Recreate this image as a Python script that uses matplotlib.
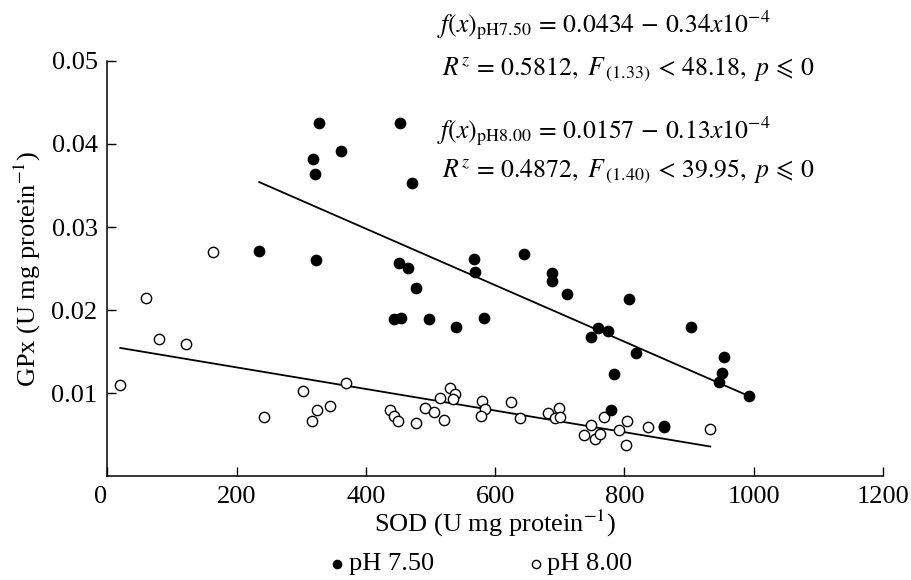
import numpy as np
import matplotlib
matplotlib.use('Agg')
import matplotlib.pyplot as plt

plt.rcParams['font.family'] = ['Liberation Serif', 'DejaVu Serif']
plt.rcParams['mathtext.fontset'] = 'stix'

# pH 7.50 (filled)
sod_75 = [328, 453, 319, 362, 322, 471, 235, 323, 452, 465, 478, 443, 455,
          498, 540, 583, 567, 569, 644, 688, 688, 712, 759, 749, 808, 774,
          903, 818, 784, 955, 951, 947, 993, 779, 862]
gpx_75 = [0.0425, 0.0425, 0.0382, 0.0392, 0.0364, 0.0353, 0.0271, 0.0260,
          0.0257, 0.0251, 0.0227, 0.0189, 0.0190, 0.0189, 0.0180, 0.0190,
          0.0262, 0.0246, 0.0267, 0.0245, 0.0235, 0.0219, 0.0179, 0.0167,
          0.0213, 0.0175, 0.0180, 0.0148, 0.0123, 0.0143, 0.0124, 0.0113,
          0.0096, 0.0080, 0.0059]

# pH 8.00 (open)
sod_80 = [164, 60, 80, 121, 20, 370, 303, 242, 324, 317, 345, 438, 443, 450,
          478, 492, 505, 514, 521, 530, 538, 535, 579, 584, 578, 625, 638,
          682, 699, 692, 700, 749, 737, 754, 763, 768, 791, 804, 802, 837,
          861, 933]
gpx_80 = [0.0270, 0.0214, 0.0165, 0.0159, 0.0110, 0.0112, 0.0102, 0.0071,
          0.0080, 0.0066, 0.0084, 0.0080, 0.0072, 0.0067, 0.0064, 0.0082,
          0.0077, 0.0094, 0.0068, 0.0106, 0.0099, 0.0093, 0.0091, 0.0081,
          0.0073, 0.0089, 0.0070, 0.0076, 0.0082, 0.0070, 0.0071, 0.0062,
          0.0050, 0.0045, 0.0051, 0.0071, 0.0055, 0.0067, 0.0037, 0.0059,
          0.0061, 0.0057]

# regression coefficients (intercept, slope)
fit_75 = (0.0434, -0.34e-4)
fit_80 = (0.0157, -0.13e-4)

fig = plt.figure(figsize=(9.12, 5.8), dpi=100)
ax = fig.add_axes([0.1177, 0.179, 0.8503, 0.716])

ax.scatter(sod_80, gpx_80, s=55, facecolors='white', edgecolors='black',
           linewidths=1.0, zorder=3, label='pH 8.00')
ax.scatter(sod_75, gpx_75, s=55, color='black', zorder=4, label='pH 7.50')

for xs, (b0, b1) in ((sod_75, fit_75), (sod_80, fit_80)):
    xl = np.array([min(xs), max(xs)])
    ax.plot(xl, b0 + b1 * xl, color='black', lw=1.3, zorder=2)

ax.set_xlim(0, 1200)
ax.set_ylim(0, 0.05)
ax.set_xticks(range(0, 1201, 200))
ax.set_yticks([0.01, 0.02, 0.03, 0.04, 0.05])
ax.set_yticklabels(['0.01', '0.02', '0.03', '0.04', '0.05'])
ax.tick_params(direction='in', length=6.5, width=1, labelsize=19, pad=7)
ax.get_xticklabels()[0].set_horizontalalignment('right')
for side in ('top', 'right'):
    ax.spines[side].set_visible(False)
for side in ('left', 'bottom'):
    ax.spines[side].set_linewidth(1.1)

ax.set_xlabel('SOD (U mg protein$^{-1}$)', fontsize=19, labelpad=0)
ax.set_ylabel('GPx (U mg protein$^{-1}$)', fontsize=19, labelpad=6)

handles, labels = ax.get_legend_handles_labels()
fig.legend(handles[::-1], labels[::-1], loc='center', ncol=2,
           bbox_to_anchor=(0.525, 0.028), frameon=False, fontsize=19,
           markerscale=0.8, handletextpad=0.0, columnspacing=3.4,
           handlelength=0.9, borderpad=0)

txt = [
    (437, 32, r'$f(x)_{\mathrm{pH7.50}}\,=\,0.0434\,-\,0.34x10^{-4}$'),
    (442, 75, r'$R^{z}\,=\,0.5812,\ F_{\,(1.33)}\,<\,48.18,\ p\,\leqslant\,0$'),
    (437, 138, r'$f(x)_{\mathrm{pH8.00}}\,=\,0.0157\,-\,0.13x10^{-4}$'),
    (442, 177, r'$R^{z}\,=\,0.4872,\ F_{\,(1.40)}\,<\,39.95,\ p\,\leqslant\,0$'),
]
for px, py, s in txt:
    fig.text(px / 912, 1 - py / 580, s, fontsize=18.5, va='baseline',
             ha='left')

fig.savefig('out.png', dpi=100)
